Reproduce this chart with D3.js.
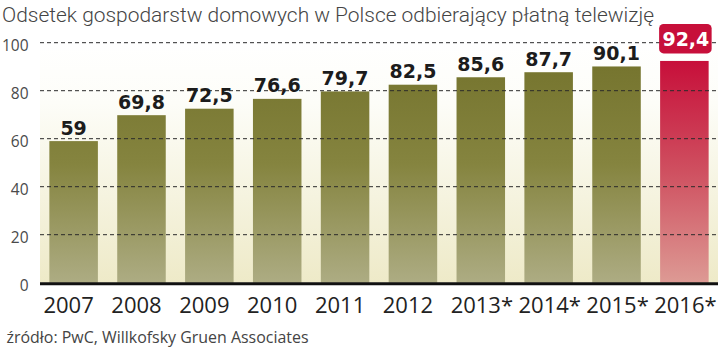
<!DOCTYPE html>
<html><head><meta charset="utf-8">
<script src="https://cdn.jsdelivr.net/npm/d3@7"></script>
<style>html,body{margin:0;padding:0;background:#fff;}svg{display:block;}</style>
</head><body>
<svg id="c" width="720" height="347"></svg>
<script>
const titleText = "Odsetek gospodarstw domowych w Polsce odbierający płatną telewizję";
const sourceText = "źródło: PwC, Willkofsky Gruen Associates";
const years = ["2007","2008","2009","2010","2011","2012","2013*","2014*","2015*","2016*"];
const values = [59, 69.8, 72.5, 76.6, 79.7, 82.5, 85.6, 87.7, 90.1, 92.4];
const valueLabels = ["59","69,8","72,5","76,6","79,7","82,5","85,6","87,7","90,1","92,4"];
const yTicks = [0, 20, 40, 60, 80, 100];
const highlight = "2016*";

(function(){
const svg = d3.select("#c");
const pL = 40, pR = 718, pT = 42.7, pB = 282.7;

const x = d3.scaleBand().domain(years).range([pL, pR]).paddingInner(0.285).paddingOuter(0.138);
const y = d3.scaleLinear().domain([0, 100]).range([pB, pT]);

const defs = svg.append("defs");
const bg = defs.append("linearGradient").attr("id","bg").attr("gradientUnits","userSpaceOnUse")
  .attr("x1",0).attr("x2",0).attr("y1",y(100)).attr("y2",y(0));
bg.append("stop").attr("offset",0).attr("stop-color","#ffffff");
bg.append("stop").attr("offset",0.25).attr("stop-color","#fdfdf8");
bg.append("stop").attr("offset",1).attr("stop-color","#eeeac8");
const og = defs.append("linearGradient").attr("id","olive").attr("gradientUnits","userSpaceOnUse")
  .attr("x1",0).attr("x2",0).attr("y1",y(90)).attr("y2",y(0));
og.append("stop").attr("offset",0).attr("stop-color","#76752f");
og.append("stop").attr("offset",0.45).attr("stop-color","#85843f");
og.append("stop").attr("offset",1).attr("stop-color","#adac83");
const rg = defs.append("linearGradient").attr("id","red").attr("gradientUnits","userSpaceOnUse")
  .attr("x1",0).attr("x2",0).attr("y1",y(92.4)).attr("y2",y(0));
rg.append("stop").attr("offset",0).attr("stop-color","#c70f3a");
rg.append("stop").attr("offset",0.5).attr("stop-color","#cf5060");
rg.append("stop").attr("offset",1).attr("stop-color","#dd9a94");

svg.append("text").attr("x", 2).attr("y", 21.5)
  .attr("font-family","Roboto").attr("font-weight",300).attr("font-size",19.5)
  .attr("fill","#444").attr("textLength",652).attr("lengthAdjust","spacingAndGlyphs")
  .text(titleText);

svg.append("rect").attr("x", pL).attr("y", y(100)).attr("width", pR-pL).attr("height", y(0)-y(100))
  .attr("fill","url(#bg)");

svg.append("g").selectAll("rect").data(years).join("rect")
  .attr("x", d => x(d)).attr("width", x.bandwidth())
  .attr("y", (d,i) => y(values[i])).attr("height", (d,i) => y(0) - y(values[i]))
  .attr("fill", d => d === highlight ? "url(#red)" : "url(#olive)");

svg.append("g").selectAll("line").data(yTicks.filter(t => t > 0)).join("line")
  .attr("x1", pL).attr("x2", pR).attr("y1", d => y(d)).attr("y2", d => y(d))
  .attr("stroke","#2a2a2a").attr("stroke-width",1).attr("stroke-dasharray","4,3");

svg.append("g").selectAll("text").data(yTicks).join("text")
  .attr("x", 28.5).attr("y", d => y(d) + 8.5).attr("text-anchor","end")
  .attr("font-family","Open Sans").attr("font-size",15.5).attr("fill","#4a4a4a")
  .text(d => d);

svg.append("line").attr("x1", pL).attr("x2", pR).attr("y1", y(0)+1).attr("y2", y(0)+1)
  .attr("stroke","#111").attr("stroke-width",3);

const vl = svg.append("g");
years.forEach((yr, i) => {
  const cx = x(yr) + x.bandwidth()/2;
  const ty = y(values[i]);
  if (yr === highlight) {
    vl.append("rect").attr("x", x(yr) - 1).attr("width", x.bandwidth() + 4)
      .attr("y", ty - 37).attr("height", 29.5).attr("rx", 4.5)
      .attr("fill","#c70f3a");
    vl.append("text").attr("x", cx + 1.5).attr("y", ty - 15)
      .attr("text-anchor","middle").attr("font-family","DejaVu Sans").attr("font-weight","bold")
      .attr("font-size",19).attr("fill","#fff").text(valueLabels[i]);
  } else {
    vl.append("text").attr("x", cx).attr("y", ty - 6.5)
      .attr("text-anchor","middle").attr("font-family","DejaVu Sans").attr("font-weight","bold")
      .attr("font-size",19).attr("fill","#1c1c1c").text(valueLabels[i]);
  }
});

const xl = svg.append("g");
years.forEach(yr => {
  const t = xl.append("text").attr("y", 312.5)
    .attr("font-family","Open Sans").attr("font-size",22).attr("fill","#222").text(yr);
  const digitsW = t.node().getSubStringLength(0, 4);
  const cx = x(yr) + x.bandwidth()/2 - 5;
  t.attr("x", cx - digitsW/2);
});

svg.append("text").attr("x", 6.5).attr("y", 343)
  .attr("font-family","Open Sans").attr("font-size",17).attr("fill","#444")
  .attr("textLength",302).attr("lengthAdjust","spacingAndGlyphs")
  .text(sourceText);
})();
</script>
</body></html>
